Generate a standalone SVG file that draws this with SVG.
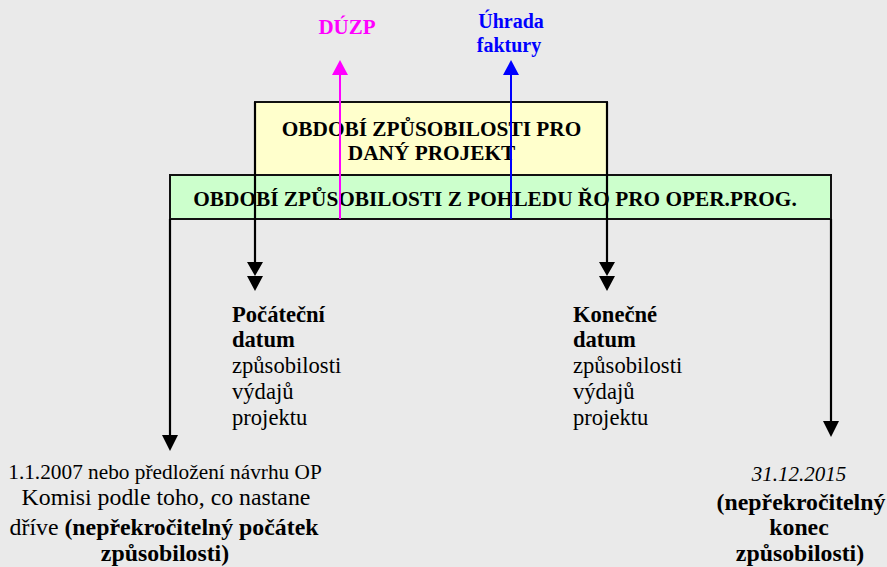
<svg xmlns="http://www.w3.org/2000/svg" width="887" height="567" viewBox="0 0 887 567">
<defs>
<style>
.t{font-family:"Liberation Serif","Times New Roman",serif;fill:#000}
.b{font-weight:bold}
.box{stroke:#111;stroke-width:2}
.ln{stroke:#000;stroke-width:2.2;fill:none}
.body{font-size:22.6px}
.head{font-size:21.3px;font-weight:bold}
.foot{font-size:23.8px}
</style>
</defs>
<rect width="887" height="567" fill="#EAEAEA"/>
<g id="project-period">
<rect class="box" x="255" y="102" width="352" height="73" fill="#FFFFCC"/>
<text class="t head" x="431.5" y="136" text-anchor="middle">OBDOBÍ ZPŮSOBILOSTI PRO</text>
<text class="t head" x="431.5" y="160" text-anchor="middle">DANÝ PROJEKT</text>
</g>
<g id="op-period">
<rect class="box" x="170" y="175" width="661" height="44" fill="#CCFFCC"/>
<text class="t head" x="495" y="206" text-anchor="middle">OBDOBÍ ZPŮSOBILOSTI Z POHLEDU ŘO PRO OPER.PROG.</text>
</g>
<g id="connectors">
<line class="ln" x1="255" y1="102" x2="255" y2="262"/>
<path d="M247,262 L263,262 L255,276 Z M247,276 L263,276 L255,291 Z" fill="#000"/>
<line class="ln" x1="607" y1="102" x2="607" y2="262"/>
<path d="M599,262 L615,262 L607,276 Z M599,276 L615,276 L607,291 Z" fill="#000"/>
<line class="ln" x1="170" y1="219" x2="170" y2="436"/>
<path d="M162,435 L178,435 L170,451 Z" fill="#000"/>
<line class="ln" x1="831" y1="219" x2="831" y2="422"/>
<path d="M823,421 L839,421 L831,437 Z" fill="#000"/>
<line x1="340" y1="219" x2="340" y2="74" stroke="#FF00FF" stroke-width="2"/>
<path d="M332,75 L348,75 L340,60 Z" fill="#FF00FF"/>
<line x1="511" y1="219" x2="511" y2="74" stroke="#0000FF" stroke-width="2"/>
<path d="M503,75 L519,75 L511,60 Z" fill="#0000FF"/>
</g>
<g id="duzp">
<text class="t b" x="347" y="34" font-size="21" text-anchor="middle" style="fill:#FF00FF">DÚZP</text>
</g>
<g id="uhrada">
<text class="t b" x="511" y="28" font-size="20" text-anchor="middle" style="fill:#0000FF">Úhrada</text>
<text class="t b" x="509" y="52" font-size="20" text-anchor="middle" style="fill:#0000FF">faktury</text>
</g>
<g id="start-date">
<text class="t body b" x="232" y="322">Počáteční</text>
<text class="t body b" x="232" y="347">datum</text>
<text class="t body" x="232" y="373">způsobilosti</text>
<text class="t body" x="232" y="399">výdajů</text>
<text class="t body" x="232" y="425">projektu</text>
</g>
<g id="end-date">
<text class="t body b" x="573" y="322">Konečné</text>
<text class="t body b" x="573" y="347">datum</text>
<text class="t body" x="573" y="373">způsobilosti</text>
<text class="t body" x="573" y="399">výdajů</text>
<text class="t body" x="573" y="425">projektu</text>
</g>
<g id="op-start">
<text class="t" x="165" y="479" font-size="21.3" text-anchor="middle">1.1.2007 nebo předložení návrhu OP</text>
<text class="t foot" x="166" y="505" text-anchor="middle">Komisi podle toho, co nastane</text>
<text class="t foot" x="164" y="535" text-anchor="middle">dříve <tspan class="b">(nepřekročitelný počátek</tspan></text>
<text class="t foot b" x="165" y="561" text-anchor="middle">způsobilosti)</text>
</g>
<g id="op-end">
<text class="t" x="799" y="481" font-size="21" text-anchor="middle" font-style="italic">31.12.2015</text>
<text class="t foot b" x="801" y="510" text-anchor="middle">(nepřekročitelný</text>
<text class="t foot b" x="799" y="535" text-anchor="middle">konec</text>
<text class="t foot b" x="800" y="561" text-anchor="middle">způsobilosti)</text>
</g>
</svg>
